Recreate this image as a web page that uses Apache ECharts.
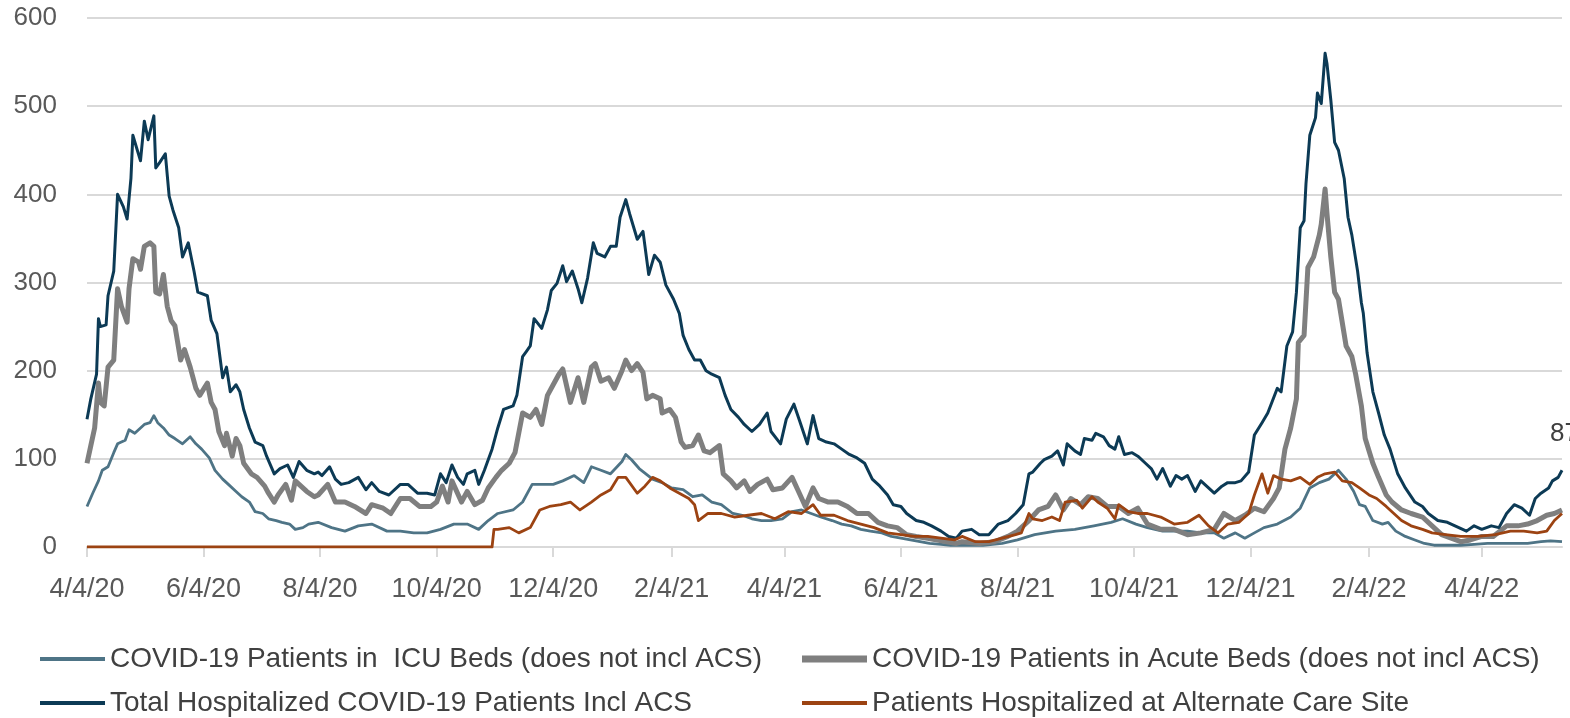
<!DOCTYPE html>
<html>
<head>
<meta charset="utf-8">
<script src="https://cdn.jsdelivr.net/npm/echarts@6/dist/echarts.min.js"></script>
<style>
  html, body { margin: 0; padding: 0; background: #ffffff; }
  #chart { width: 1570px; height: 718px; }
</style>
</head>
<body>
<div id="chart"></div>
<script>
// days since 4/4/20
const startDate = [2020, 3, 4];
const dayCount = 773;
const yTicks = [0, 100, 200, 300, 400, 500, 600];

const seriesNames = [
  'COVID-19 Patients in  ICU Beds (does not incl ACS)',
  'COVID-19 Patients in Acute Beds (does not incl ACS)',
  'Total Hospitalized COVID-19 Patients Incl ACS',
  'Patients Hospitalized at Alternate Care Site'
];

const icuBeds = [
  [0,46],[3,61],[6,75],[8,87],[11,91],[14,107],[16,117],[20,121],[22,133],[25,129],[28,135],[30,139],[33,141],[35,149],[37,141],[40,135],[43,127],[46,123],[50,117],[54,125],[57,117],[60,111],[64,101],[67,87],[71,77],[74,71],[78,63],[81,57],[85,51],[88,40],[92,38],[95,32],[99,30],[102,28],[106,26],[109,20],[113,22],[116,26],
  [121,28],[128,22],[135,18],[142,24],[149,26],[157,18],[164,18],[171,16],[178,16],[185,20],[192,26],[199,26],[205,20],[210,30],[215,38],[223,42],[228,51],[233,71],[239,71],[244,71],[249,75],[255,81],[260,73],[264,91],[269,87],[274,83],[280,97],[282,105],[285,99],[289,89],
  [296,77],[301,73],[306,67],[312,65],[317,57],[322,59],[327,51],[332,48],[338,38],[343,36],[348,32],[353,30],[358,30],[364,32],[369,40],[374,42],[379,38],[384,34],[390,30],[395,26],[400,24],[405,20],[410,18],[416,16],[421,12],[426,10],[431,8],[436,6],[441,4],[447,3],[452,2],[457,2],
  [463,2],[469,2],[479,4],[487,8],[496,14],[507,18],[517,20],[527,24],[536,28],[542,32],[549,26],[555,22],[563,18],[570,18],[576,18],[583,16],[590,16],[595,10],[601,16],[606,10],[611,16],
  [616,22],[623,26],[630,34],[635,44],[640,67],[645,73],[650,77],[655,87],[659,77],[663,63],[666,48],[669,46],[673,30],[678,26],[681,28],[685,18],[690,12],[695,8],[700,4],[705,2],[712,2],[719,2],[726,3],[733,4],[740,4],[747,4],[754,4],[761,6],[766,7],[772,6]
];

const acuteBeds = [
  [0,95],[2,115],[4,135],[6,186],[7,164],[9,160],[11,204],[14,212],[16,293],[18,273],[21,255],[22,293],[24,327],[27,323],[28,315],[30,341],[33,345],[35,341],[36,289],[38,287],[40,309],[42,273],[44,257],[46,251],[49,212],[51,224],[54,204],[57,180],[59,172],[63,186],[65,164],[67,156],[69,131],[72,115],[73,129],[76,103],[78,123],[80,115],[82,95],[86,83],[89,79],[93,69],[95,61],[98,51],[100,59],[104,71],[107,53],[109,75],[113,67],[115,63],[119,57],
  [121,59],[126,71],[130,51],[135,51],[140,46],[146,38],[149,48],[155,44],[159,38],[164,55],[169,55],[174,46],[180,46],[183,51],[186,69],[189,51],[191,75],[196,51],[199,63],[203,48],[207,53],[210,67],[214,79],[217,87],[221,95],[224,107],[228,152],[232,147],[235,156],[238,139],[241,172],[244,184],[247,196],[249,202],[253,164],[257,192],[260,164],[264,204],[266,208],[269,188],[273,192],[276,180],[280,200],[282,212],[285,200],[288,208],
  [291,198],[293,168],[296,172],[300,168],[301,152],[305,156],[308,147],[311,119],[313,113],[317,115],[320,127],[323,109],[326,107],[331,115],[333,83],[337,75],[340,67],[344,75],[347,63],[351,71],[356,77],[359,65],[364,67],[369,79],[372,65],[376,46],[380,67],[383,55],[388,51],[393,51],[398,46],[403,38],[409,38],[414,28],[419,24],[424,22],[429,14],[434,12],[440,10],[445,8],[450,6],[455,4],
  [458,6],[467,4],[475,6],[482,12],[487,18],[493,30],[498,42],[503,46],[507,59],[511,42],[515,55],[520,48],[524,57],[529,55],[534,46],[540,46],[545,38],[550,44],[555,26],[562,20],[569,20],[576,14],[583,16],[590,20],[595,38],[601,30],[606,36],[611,44],[616,40],
  [621,55],[624,67],[627,111],[630,135],[633,168],[634,232],[637,240],[639,317],[642,329],[645,354],[646,366],[648,406],[649,378],[651,329],[653,289],[655,281],[659,228],[662,216],[664,196],[667,160],[669,123],[673,95],[676,79],[680,59],[683,51],[688,42],[693,38],[699,34],[704,24],[709,14],[714,10],[719,6],[724,8],[730,12],[736,12],[743,24],[749,24],[754,26],[759,30],[764,36],[768,38],[772,42]
];

const totalHosp = [
  [0,145],[2,168],[5,196],[6,259],[7,250],[10,252],[11,285],[14,313],[16,400],[19,386],[21,372],[23,418],[24,467],[28,438],[30,483],[32,462],[35,489],[36,430],[38,436],[41,446],[43,398],[45,382],[48,362],[50,329],[53,345],[56,313],[58,289],[63,285],[65,257],[68,242],[71,192],[73,204],[75,176],[78,184],[80,176],[82,156],[85,135],[88,119],[92,115],[94,103],[98,83],[101,89],[105,93],[108,79],[111,97],[115,87],[119,83],
  [121,85],[123,81],[127,91],[130,77],[133,71],[137,73],[142,79],[146,65],[149,73],[153,63],[158,59],[164,71],[168,71],[173,61],[178,61],[182,59],[185,83],[188,73],[191,93],[194,79],[197,71],[199,83],[203,87],[205,71],[208,87],[212,111],[215,135],[218,156],[223,160],[225,172],[228,216],[230,222],[232,228],[234,259],[238,248],[241,269],[243,291],[246,299],[249,319],[251,301],[254,313],[257,293],[259,277],[262,305],[265,345],[267,333],[271,329],[274,341],[277,341],[279,374],[282,394],[284,378],[288,349],
  [291,358],[294,309],[297,331],[300,323],[303,297],[307,281],[310,265],[312,240],[315,224],[318,212],[321,212],[324,200],[327,196],[331,192],[334,172],[337,156],[341,147],[344,139],[348,131],[352,139],[356,152],[358,131],[363,117],[366,145],[370,162],[373,143],[377,117],[380,149],[383,123],[387,119],[391,117],[395,111],[399,105],[403,101],[407,95],[411,77],[415,69],[419,59],[422,48],[426,46],[429,38],[434,30],[438,28],[442,24],[447,18],[451,12],[455,10],
  [458,18],[463,20],[467,14],[472,14],[477,26],[482,30],[486,38],[490,48],[493,83],[495,85],[499,95],[501,99],[505,103],[508,109],[511,93],[513,117],[517,109],[520,105],[522,123],[526,121],[528,129],[532,125],[535,115],[538,111],[540,125],[543,105],[547,107],[550,103],[554,95],[557,89],[560,77],[563,89],[567,69],[570,81],[573,77],[576,81],[580,63],[583,75],[587,67],[590,61],[594,69],[597,73],[601,73],[604,75],[608,85],[611,127],[615,141],
  [618,152],[623,180],[625,176],[628,228],[631,244],[633,289],[635,362],[637,370],[638,412],[640,467],[643,487],[644,515],[646,503],[648,560],[649,548],[651,507],[653,459],[655,450],[658,418],[660,374],[662,354],[665,313],[667,277],[668,265],[670,220],[673,176],[676,152],[679,127],[682,111],[686,83],[690,67],[695,51],[699,46],[702,38],[707,30],[712,28],[718,22],[722,18],[726,24],[730,20],[735,24],[739,22],[743,38],[747,48],[751,44],[755,36],[758,55],[761,61],[765,67],[767,75],[770,79],[772,87]
];

const altCareSite = [
  [0,0],[212,0],
  [213,20],[215,20],[221,22],[226,16],[232,22],[237,42],[242,46],[248,48],[253,51],[258,42],[264,51],[269,59],[274,65],[278,79],[282,79],[288,61],
  [292,69],[296,79],[300,75],[305,67],[310,61],[315,55],[318,48],[320,30],[325,38],[332,38],[339,34],[346,36],[353,38],[360,32],[367,40],[374,38],[380,48],[384,36],[391,36],[398,30],[405,26],[412,22],[419,16],[426,14],[433,12],[440,12],[447,10],[454,8],
  [458,12],[465,6],[472,6],[479,10],[486,14],[489,16],[493,38],[495,32],[500,30],[505,34],[509,30],[512,51],[518,53],[521,44],[526,57],[529,51],[534,44],[538,32],[540,48],[545,40],[550,38],[555,38],[562,34],[569,26],[576,28],[582,36],[587,24],[592,16],[597,26],[603,28],[608,38],[611,59],[615,83],
  [618,61],[621,81],[625,77],[630,75],[635,79],[640,71],[644,79],[648,83],[653,85],[657,75],[662,73],[666,67],[671,59],[675,55],[680,46],[684,38],[688,30],[693,24],[699,20],[704,16],[711,14],[719,12],[728,12],[737,14],[745,18],[752,18],[759,16],[764,18],[768,30],[772,38]
];

const dates = [];
for (let i = 0; i < dayCount; i++) {
  const d = new Date(startDate[0], startDate[1], startDate[2] + i);
  dates.push((d.getMonth() + 1) + '/' + d.getDate() + '/' + String(d.getFullYear()).slice(2));
}

// labels on the 4th of every even month
function isTickDay(index, value) {
  const p = value.split('/');
  return p[1] === '4' && Number(p[0]) % 2 === 0;
}

const font = "'Liberation Sans', Arial, sans-serif";
const colors = ['#4e7486', '#7f7f7f', '#0c3a55', '#9c4312'];
const widths = [2.8, 5, 3, 2.8];

function lineSeries(i, data) {
  return {
    name: seriesNames[i],
    type: 'line',
    data: data,
    showSymbol: false,
    symbol: 'none',
    color: colors[i],
    lineStyle: { color: colors[i], width: widths[i], join: 'round' },
    z: 2 + i
  };
}

function legendAt(i, left, top, h) {
  return {
    left: left,
    top: top,
    padding: 0,
    data: [seriesNames[i]],
    icon: 'rect',
    itemWidth: 65,
    itemHeight: h,
    selectedMode: false,
    textStyle: { fontFamily: font, fontSize: 28, color: '#404040' }
  };
}

const total = lineSeries(2, totalHosp);
// value label at the last day
total.endLabel = {
  show: true,
  formatter: function (p) { return p.value[1]; },
  offset: [-20, -36],
  fontFamily: font,
  fontSize: 26,
  color: '#404040'
};

const chart = echarts.init(document.getElementById('chart'));
chart.setOption({
  animation: false,
  backgroundColor: '#ffffff',
  grid: { left: 87, right: 8, top: 18, bottom: 171 },
  legend: [
    legendAt(0, 40, 645, 4),
    legendAt(1, 802, 645, 7),
    legendAt(2, 40, 689, 4),
    legendAt(3, 802, 689, 4)
  ],
  xAxis: {
    type: 'category',
    data: dates,
    boundaryGap: false,
    axisLine: { lineStyle: { color: '#d9d9d9', width: 2 } },
    axisTick: { show: true, interval: isTickDay, length: 10, lineStyle: { color: '#d9d9d9', width: 2 } },
    axisLabel: { interval: isTickDay, margin: 29, fontFamily: font, fontSize: 27, color: '#595959' },
    splitLine: { show: false }
  },
  yAxis: {
    type: 'value',
    min: yTicks[0],
    max: yTicks[yTicks.length - 1],
    interval: 100,
    axisLine: { show: false },
    axisTick: { show: false },
    axisLabel: { margin: 30, fontFamily: font, fontSize: 26, color: '#595959' },
    splitLine: { lineStyle: { color: '#d9d9d9', width: 2 } }
  },
  series: [
    lineSeries(0, icuBeds),
    lineSeries(1, acuteBeds),
    total,
    lineSeries(3, altCareSite)
  ]
});
</script>
</body>
</html>
